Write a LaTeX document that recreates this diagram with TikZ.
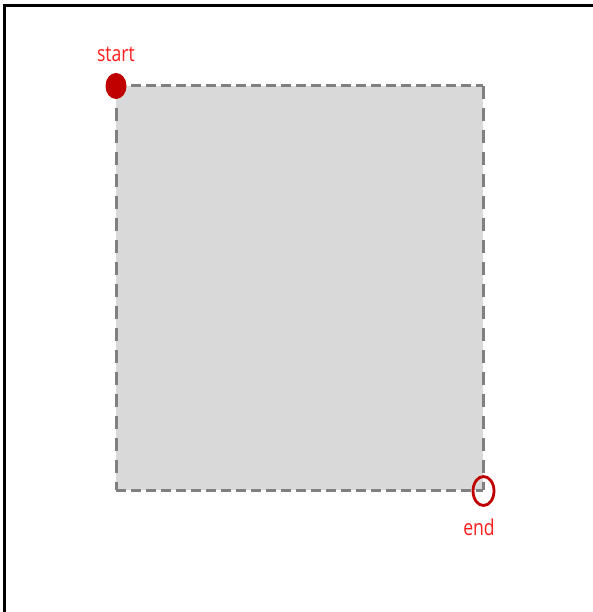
\documentclass[tikz,border=0pt]{standalone}
\usepackage{fontspec}
\setmainfont{Open Sans}
\usetikzlibrary{positioning}
\definecolor{marker}{RGB}{192,0,0}
\definecolor{labelred}{RGB}{255,30,30}
\definecolor{boxgray}{RGB}{217,217,217}
\definecolor{edgegray}{RGB}{128,128,128}

\begin{document}
\begin{tikzpicture}[x=1pt, y=-1pt,
    edge/.style={edgegray, line width=3pt},
    tag/.style={labelred, font=\fontsize{22}{26}\selectfont, xscale=0.8, transform shape, inner sep=0pt}]

    \useasboundingbox (0,0) rectangle (593,612);

    % Frame (left and top only)
    \draw[line width=3pt] (4,612) -- (4,6) -- (593,6);

    % Shaded region
    \fill[boxgray] (116,86) rectangle (483,490);
    \coordinate (tl) at (116,86);
    \coordinate (tr) at (483,86);
    \coordinate (bl) at (116,490);
    \coordinate (br) at (483,490);

    % Dashed outline
    \draw[edge, dash pattern=on 10pt off 5pt] (tl) -- (tr) (bl) -- (br);
    \draw[edge, dash pattern=on 13pt off 9pt] (tl) -- (bl) (tr) -- (br);

    % Start and end markers
    \fill[marker] (tl) ellipse [x radius=10.5, y radius=13];
    \draw[marker, line width=2.8pt] (483.5,491) ellipse [x radius=10.5, y radius=14.5];

    % Labels
    \node[tag] (startlbl) at (116,54) {start};
    \node[tag] (endlbl) at (479,527) {end};

\end{tikzpicture}
\end{document}
